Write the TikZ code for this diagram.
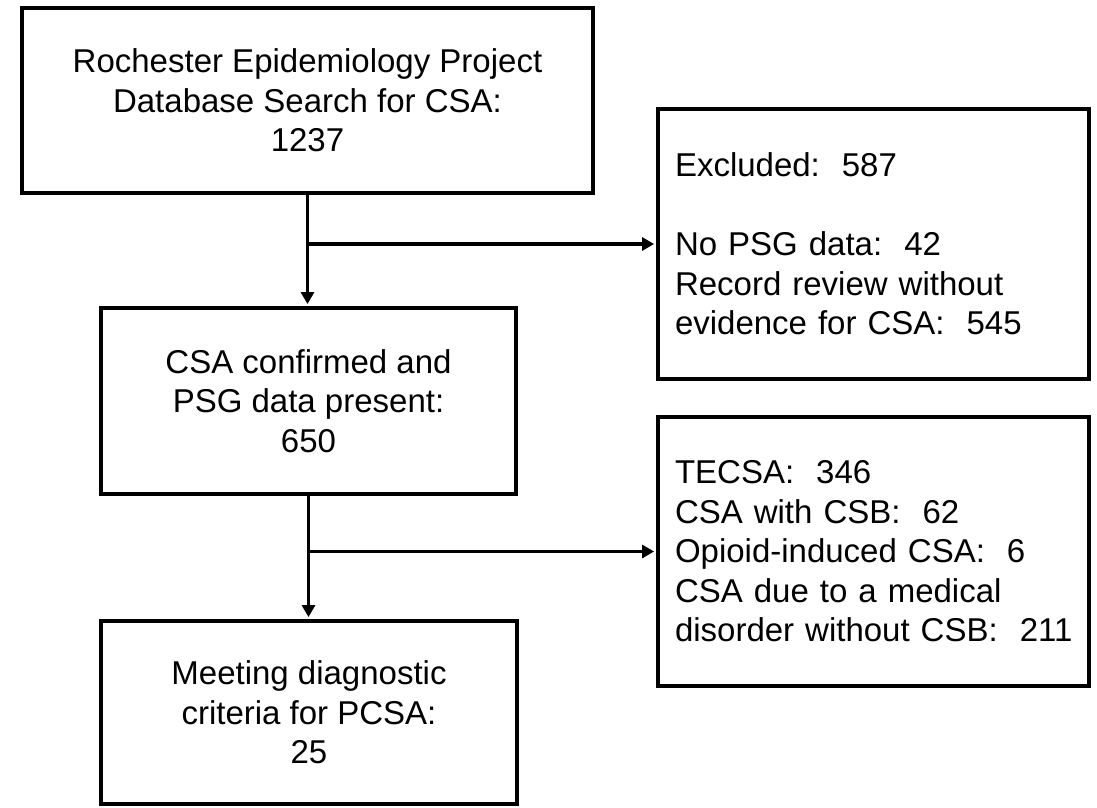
\documentclass[tikz,border=0pt]{standalone}
\usepackage{fontspec}
\setmainfont{Liberation Sans}
\usetikzlibrary{arrows.meta}
\begin{document}
\begin{tikzpicture}[x=1pt,y=-1pt,
  box/.style={draw=black,line width=3.8pt,rectangle,inner sep=0pt,align=center,
    font=\fontsize{33}{39.5}\selectfont\frenchspacing},
  sidebox/.style={box,align=left,inner xsep=17pt,text width=397pt},
  conn/.style={line width=3.2pt,draw=black},
  arr/.style={conn,-{Triangle[length=12pt,width=13pt]},shorten >=2pt}]
\useasboundingbox (0,0) rectangle (1097,807);
\node[box,minimum width=571pt,minimum height=185pt] (b1) at (307.5,100.5)
  {Rochester Epidemiology Project\\Database Search for CSA:\\1237};
\node[box,minimum width=415pt,minimum height=186pt] (b2) at (308.5,401)
  {CSA confirmed and\\PSG data present:\\650};
\node[box,minimum width=416pt,minimum height=183pt] (b3) at (309,712.5)
  {Meeting diagnostic\\criteria for PCSA:\\25};
\node[sidebox,minimum height=270pt] (ex) at (873.5,244)
  {Excluded:\ \ 587\\[39.5pt]No PSG data:\ \ 42\\Record review without\\evidence for CSA:\ \ 545};
\node[sidebox,minimum height=269pt] (te) at (873.5,551.5)
  {TECSA:\ \ 346\\CSA with CSB:\ \ 62\\Opioid-induced CSA:\ \ 6\\CSA due to a medical\\\mbox{disorder without CSB:\ \ 211}};
\coordinate (j1) at (b1.south |- ex.west);
\coordinate (j2) at (b2.south |- te.west);
\draw[arr] (b1.south) -- (b1.south |- b2.north);
\draw[arr] (j1) -- (ex.west);
\draw[arr] (b2.south) -- (b2.south |- b3.north);
\draw[arr] (j2) -- (te.west);
\end{tikzpicture}
\end{document}
